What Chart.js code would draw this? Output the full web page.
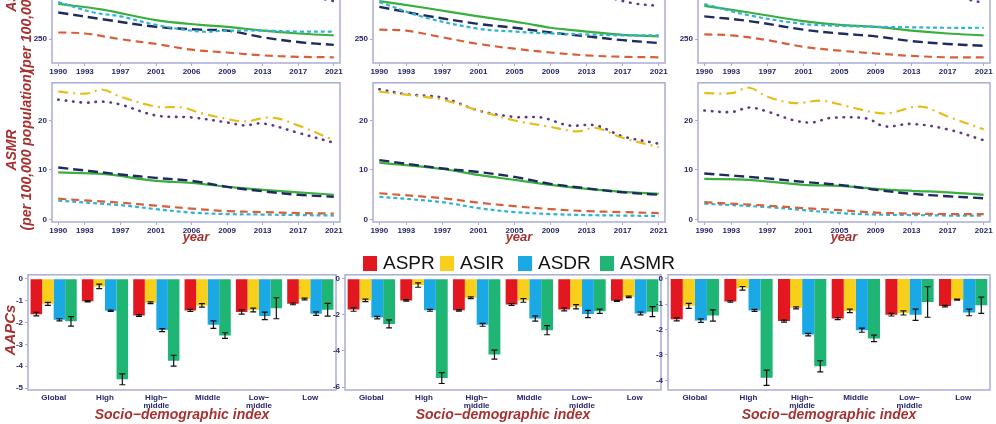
<!DOCTYPE html>
<html>
<head>
<meta charset="utf-8">
<script src="https://cdn.jsdelivr.net/npm/chart.js@4.4.1/dist/chart.umd.min.js"></script>
<style>
body { margin:0; width:996px; height:424px; overflow:hidden; background:#fff; position:relative; font-family:"Liberation Sans", Arial, sans-serif; }
canvas { position:absolute; }
.tt { position:absolute; color:#a83232; font-weight:bold; font-style:italic; white-space:nowrap; text-align:center; }
.rot { transform:translate(-50%,-50%) rotate(-90deg); line-height:15px; font-size:14px; }
.xt { transform:translateX(-50%); }
.lg { position:absolute; top:252px; font-size:19px; color:#111; display:flex; align-items:center; }
.lg i { display:inline-block; width:14px; height:15px; margin-right:6px; }
</style>
</head>
<body>
<canvas id="t0" style="left:20px;top:-80px"></canvas>
<canvas id="t1" style="left:345px;top:-80px"></canvas>
<canvas id="t2" style="left:670px;top:-80px"></canvas>
<canvas id="m0" style="left:20px;top:76px"></canvas>
<canvas id="m1" style="left:345px;top:76px"></canvas>
<canvas id="m2" style="left:670px;top:76px"></canvas>
<canvas id="b0" style="left:0px;top:268px"></canvas>
<canvas id="b1" style="left:320px;top:268px"></canvas>
<canvas id="b2" style="left:643px;top:268px"></canvas>

<div class="tt rot" style="left:19px;top:-8px">ASDR<br>(per 100,000 population)</div>
<div class="tt rot" style="left:19px;top:150px">ASMR<br>(per 100,000 population)</div>
<div class="tt rot" style="left:9px;top:330px;font-size:15px">AAPCs</div>
<div class="tt xt" style="left:196px;top:229px;font-size:13px">year</div>
<div class="tt xt" style="left:519px;top:229px;font-size:13px">year</div>
<div class="tt xt" style="left:844px;top:229px;font-size:13px">year</div>
<div class="tt xt" style="left:182px;top:406px;font-size:14px">Socio−demographic index</div>
<div class="tt xt" style="left:503px;top:406px;font-size:14px">Socio−demographic index</div>
<div class="tt xt" style="left:829px;top:406px;font-size:14px">Socio−demographic index</div>

<div class="lg" style="left:363px"><i style="background:#e3171f"></i>ASPR</div>
<div class="lg" style="left:440px"><i style="background:#f8cf1a"></i>ASIR</div>
<div class="lg" style="left:518px"><i style="background:#1aa9e4"></i>ASDR</div>
<div class="lg" style="left:600px"><i style="background:#1fb574"></i>ASMR</div>

<script>
// ---- line panels: [year, value] pairs ----
let tickYears = [1990, 1993, 1997, 2001, 2005, 2009, 2013, 2017, 2021];
let tickLabelsA = ['1990', '1993', '1997', '2001', '2006', '2009', '2013', '2017', '2021'];
let tickLabelsB = ['1990', '1993', '1997', '2001', '2005', '2009', '2013', '2017', '2021'];

// top row (upper part cut off)
let topLeftGreen = [[1990,324],[1995,312],[2001,290],[2006,280],[2009,276],[2013,268],[2017,262],[2021,258]];
let topLeftNavy = [[1990,306],[1995,292],[2001,276],[2006,270],[2009,268],[2013,254],[2017,244],[2021,238]];
let topLeftCyan = [[1990,328],[1994,306],[1997,298],[2001,280],[2006,266],[2009,268],[2013,268],[2017,266],[2021,266]];
let topLeftOrange = [[1990,264],[1993,262],[1997,250],[2001,240],[2005,228],[2009,222],[2013,216],[2017,213],[2021,212]];
let topLeftPurple = [[1990,420],[2001,390],[2009,370],[2017,345],[2021,330]];
let topLeftYellow = [[1990,560],[2001,530],[2013,500],[2021,470]];

let topMidGreen = [[1990,330],[1995,316],[2001,298],[2006,284],[2009,274],[2013,266],[2017,259],[2021,256]];
let topMidNavy = [[1990,318],[1995,300],[2001,282],[2005,274],[2009,264],[2013,256],[2017,248],[2021,242]];
let topMidCyan = [[1990,328],[1995,296],[2001,272],[2005,266],[2009,262],[2013,260],[2017,258],[2021,258]];
let topMidOrange = [[1990,270],[1993,268],[1997,254],[2001,240],[2005,230],[2009,222],[2013,216],[2017,213],[2021,212]];
let topMidPurple = [[1990,420],[2005,380],[2013,350],[2018,326],[2021,320]];
let topMidYellow = [[1990,560],[2005,520],[2021,470]];

let topRightGreen = [[1990,320],[1995,306],[2001,288],[2005,280],[2009,276],[2013,268],[2017,262],[2021,258]];
let topRightCyan = [[1990,324],[1995,300],[2001,282],[2005,278],[2009,276],[2013,275],[2017,274],[2021,274]];
let topRightNavy = [[1990,298],[1995,288],[2001,270],[2005,262],[2009,256],[2013,246],[2017,240],[2021,236]];
let topRightOrange = [[1990,260],[1993,258],[1997,248],[2001,234],[2005,226],[2009,220],[2013,215],[2017,212],[2021,212]];
let topRightPurple = [[1990,420],[2005,390],[2013,360],[2021,326]];
let topRightYellow = [[1990,560],[2005,520],[2021,480]];

// middle row (ASMR)
let midLeftYellow = [[1990,25.8],[1993,25.4],[1995,26.2],[1997,24.8],[2001,22.8],[2004,22.6],[2006,21.5],[2009,20.3],[2011,19.8],[2014,20.6],[2017,19],[2021,16]];
let midLeftPurple = [[1990,24.2],[1993,23.6],[1995,23.8],[1997,23.2],[2001,21],[2005,20.6],[2009,19.6],[2011,19],[2013,19.4],[2017,17.5],[2021,15.5]];
let midLeftNavy = [[1990,10.5],[1997,9.1],[2001,8.4],[2005,7.8],[2009,6.6],[2013,5.7],[2017,5],[2021,4.6]];
let midLeftGreen = [[1990,9.5],[1995,9.2],[2001,7.8],[2005,7.4],[2009,6.6],[2013,6],[2017,5.5],[2021,5]];
let midLeftOrange = [[1990,4.2],[1997,3.4],[2001,2.8],[2005,2.2],[2009,1.7],[2013,1.5],[2017,1.3],[2021,1.2]];
let midLeftCyan = [[1990,3.8],[1997,2.9],[2001,2.1],[2005,1.4],[2009,1.1],[2013,1.0],[2017,0.9],[2021,0.8]];

let midMidPurple = [[1990,26.3],[1993,25.3],[1997,24.6],[2001,22.0],[2005,20.7],[2008,20.6],[2011,19],[2014,19],[2017,16.8],[2021,15.3]];
let midMidYellow = [[1990,25.8],[1993,25.2],[1997,24.2],[2001,22],[2005,20],[2009,18.7],[2012,17.8],[2014,18.5],[2017,16.5],[2021,14.6]];
let midMidNavy = [[1990,12.0],[1997,10.3],[2001,9.6],[2005,8.6],[2009,7.2],[2013,6.3],[2017,5.5],[2021,5.0]];
let midMidGreen = [[1990,11.5],[1997,10.2],[2001,9.0],[2005,8.0],[2009,7.0],[2013,6.2],[2017,5.6],[2021,5.2]];
let midMidOrange = [[1990,5.3],[1997,4.3],[2001,3.4],[2005,2.7],[2009,2.1],[2013,1.7],[2017,1.5],[2021,1.3]];
let midMidCyan = [[1990,4.6],[1997,3.5],[2001,2.3],[2005,1.5],[2009,1.1],[2013,0.9],[2017,0.8],[2021,0.7]];

let midRightYellow = [[1990,25.5],[1993,25.5],[1995,26.6],[1997,24.8],[2000,23.5],[2003,24.0],[2006,22.8],[2010,21.4],[2014,22.8],[2017,20.8],[2021,18.2]];
let midRightPurple = [[1990,22.0],[1993,21.7],[1995,22.6],[1997,21.8],[2000,20.0],[2002,19.6],[2004,20.5],[2008,20.4],[2010,18.8],[2013,19.3],[2017,18.2],[2021,16.0]];
let midRightNavy = [[1990,9.3],[1997,8.3],[2001,7.6],[2005,7.0],[2009,6.0],[2013,5.2],[2017,4.7],[2021,4.3]];
let midRightGreen = [[1990,8.2],[1995,8.0],[2001,7.0],[2005,6.8],[2009,6.2],[2013,5.8],[2017,5.5],[2021,5.0]];
let midRightOrange = [[1990,3.5],[1997,2.8],[2001,2.3],[2005,1.9],[2009,1.4],[2013,1.2],[2017,1.1],[2021,1.1]];
let midRightCyan = [[1990,3.2],[1997,2.5],[2001,1.9],[2005,1.3],[2009,1.0],[2013,0.9],[2017,0.8],[2021,0.8]];

// ---- bar panels: AAPC value, error half-width ----
let sdi = ['Global', 'High', ['High−', 'middle'], 'Middle', ['Low−', 'middle'], 'Low'];
let measures = ['ASPR', 'ASIR', 'ASDR', 'ASMR'];
let barColors = ['#e3171f', '#f8cf1a', '#1aa9e4', '#1fb574'];

let leftASPR = [-1.62, -1.03, -1.68, -1.45, -1.52, -1.15];
let leftASIR = [-1.15, -0.35, -1.10, -1.22, -1.43, -0.93];
let leftASDR = [-1.88, -1.47, -2.35, -2.10, -1.70, -1.60];
let leftASMR = [-1.95, -4.60, -3.75, -2.60, -1.35, -1.42];
let leftErr = [[0.08, 0.03, 0.04, 0.05, 0.1, 0.04], [0.07, 0.1, 0.04, 0.08, 0.09, 0.04], [0.05, 0.03, 0.07, 0.17, 0.17, 0.08], [0.22, 0.25, 0.25, 0.13, 0.48, 0.29]];

let midASPR = [-1.70, -1.20, -1.75, -1.42, -1.70, -1.22];
let midASIR = [-1.20, -0.35, -1.05, -1.20, -1.55, -1.00];
let midASDR = [-2.15, -1.75, -2.55, -2.20, -1.95, -1.92];
let midASMR = [-2.50, -5.50, -4.20, -2.85, -1.80, -1.82];
let midErr = [[0.1, 0.04, 0.04, 0.05, 0.08, 0.03], [0.07, 0.12, 0.05, 0.1, 0.12, 0.04], [0.07, 0.05, 0.08, 0.15, 0.2, 0.08], [0.22, 0.3, 0.25, 0.25, 0.12, 0.28]];

let rightASPR = [-1.60, -0.90, -1.67, -1.57, -1.42, -1.08];
let rightASIR = [-1.07, -0.38, -1.15, -1.27, -1.35, -0.83];
let rightASDR = [-1.65, -1.25, -2.20, -2.03, -1.42, -1.33];
let rightASMR = [-1.45, -3.90, -3.45, -2.35, -0.92, -1.05];
let rightErr = [[0.06, 0.03, 0.04, 0.04, 0.05, 0.03], [0.1, 0.07, 0.04, 0.07, 0.08, 0.02], [0.07, 0.04, 0.05, 0.08, 0.22, 0.13], [0.22, 0.3, 0.22, 0.13, 0.6, 0.32]];

const tickColor = '#26266a';
const frameColor = '#a9add6';
const tickFont = { family: '"Liberation Sans", Arial', size: 8, weight: 'bold' };

const framePlugin = {
    id: 'frame',
    afterDraw(chart) {
        const a = chart.chartArea, ctx = chart.ctx;
        ctx.save();
        ctx.strokeStyle = frameColor;
        ctx.lineWidth = 1.5;
        ctx.strokeRect(a.left, a.top, a.right - a.left, a.bottom - a.top);
        ctx.restore();
    }
};

function lineStyle(name) {
    const s = {
        green: { borderColor: '#3aae3f', borderDash: [], borderWidth: 2.2 },
        navy: { borderColor: '#1f2b5e', borderDash: [10, 5], borderWidth: 2.4 },
        cyan: { borderColor: '#2fb3d6', borderDash: [4, 3], borderWidth: 2.2 },
        orange: { borderColor: '#d6603a', borderDash: [8, 5], borderWidth: 2.2 },
        yellow: { borderColor: '#e5be1c', borderDash: [10, 5, 2, 5], borderWidth: 2.2 },
        purple: { borderColor: '#5e3a86', borderDash: [0.5, 7], borderWidth: 2.6, borderCapStyle: 'round' }
    };
    return s[name];
}

function linePanel(id, series, labels, yMin, yMax, yTicks, yAxisW) {
    const cv = document.getElementById(id);
    const isTop = id[0] === 't';
    cv.width = 325; cv.height = isTop ? 157 : 160;
    const datasets = series.map(([name, pts]) => Object.assign({
        data: pts.map(p => ({ x: p[0], y: p[1] })),
        pointRadius: 0, tension: 0.35, fill: false
    }, lineStyle(name)));
    new Chart(cv, {
        type: 'line',
        data: { datasets: datasets },
        options: {
            responsive: false, animation: false,
            layout: { padding: { top: isTop ? 0 : 4, right: 5, left: 0, bottom: 0 } },
            plugins: { legend: { display: false }, tooltip: { enabled: false } },
            scales: {
                x: {
                    type: 'linear', min: 1989.3, max: 2021.7,
                    afterBuildTicks: ax => { ax.ticks = tickYears.map(v => ({ value: v })); },
                    afterFit: ax => { ax.height = 14; },
                    ticks: { color: tickColor, font: tickFont, padding: 1, maxRotation: 0,
                        callback: (v, i) => labels[i] },
                    grid: { drawOnChartArea: false, tickLength: 3, color: frameColor },
                    border: { display: false }
                },
                y: {
                    min: yMin, max: yMax,
                    afterBuildTicks: ax => { ax.ticks = yTicks.map(v => ({ value: v })); },
                    afterFit: ax => { ax.width = yAxisW; },
                    ticks: { color: tickColor, font: tickFont, padding: 2 },
                    grid: { drawOnChartArea: false, tickLength: 3, color: frameColor },
                    border: { display: false }
                }
            }
        },
        plugins: [framePlugin]
    });
}

linePanel('t0', [['yellow', topLeftYellow], ['purple', topLeftPurple], ['cyan', topLeftCyan], ['navy', topLeftNavy], ['green', topLeftGreen], ['orange', topLeftOrange]], tickLabelsA, 200, 486, [250], 32);
linePanel('t1', [['yellow', topMidYellow], ['purple', topMidPurple], ['cyan', topMidCyan], ['navy', topMidNavy], ['green', topMidGreen], ['orange', topMidOrange]], tickLabelsB, 200, 486, [250], 28);
linePanel('t2', [['yellow', topRightYellow], ['purple', topRightPurple], ['cyan', topRightCyan], ['navy', topRightNavy], ['green', topRightGreen], ['orange', topRightOrange]], tickLabelsB, 200, 486, [250], 28);
linePanel('m0', [['yellow', midLeftYellow], ['purple', midLeftPurple], ['navy', midLeftNavy], ['green', midLeftGreen], ['orange', midLeftOrange], ['cyan', midLeftCyan]], tickLabelsA, -0.5, 27.6, [0, 10, 20], 32);
linePanel('m1', [['yellow', midMidYellow], ['purple', midMidPurple], ['navy', midMidNavy], ['green', midMidGreen], ['orange', midMidOrange], ['cyan', midMidCyan]], tickLabelsB, -0.5, 27.6, [0, 10, 20], 28);
linePanel('m2', [['yellow', midRightYellow], ['purple', midRightPurple], ['navy', midRightNavy], ['green', midRightGreen], ['orange', midRightOrange], ['cyan', midRightCyan]], tickLabelsB, -0.5, 27.6, [0, 10, 20], 28);

const errorBarPlugin = {
    id: 'errbars',
    afterDatasetsDraw(chart) {
        const ctx = chart.ctx, ys = chart.scales.y;
        ctx.save();
        ctx.strokeStyle = '#111';
        ctx.lineWidth = 1.2;
        chart.data.datasets.forEach((ds, di) => {
            chart.getDatasetMeta(di).data.forEach((bar, i) => {
                const v = ds.data[i], e = ds.err[i];
                const y1 = ys.getPixelForValue(v - e), y2 = ys.getPixelForValue(v + e);
                ctx.beginPath();
                ctx.moveTo(bar.x, y1); ctx.lineTo(bar.x, y2);
                ctx.moveTo(bar.x - 3, y1); ctx.lineTo(bar.x + 3, y1);
                ctx.moveTo(bar.x - 3, y2); ctx.lineTo(bar.x + 3, y2);
                ctx.stroke();
            });
        });
        ctx.restore();
    }
};

function barPanel(id, width, yAxisW, vals, errs, yMin, yMax, step) {
    const cv = document.getElementById(id);
    cv.width = width; cv.height = 150;
    new Chart(cv, {
        type: 'bar',
        data: {
            labels: sdi,
            datasets: measures.map((m, k) => ({
                label: m, data: vals[k], err: errs[k],
                backgroundColor: barColors[k], borderWidth: 0,
                categoryPercentage: 0.9, barPercentage: 1
            }))
        },
        options: {
            responsive: false, animation: false,
            layout: { padding: { top: 4, right: 5, left: 0, bottom: 0 } },
            plugins: { legend: { display: false }, tooltip: { enabled: false } },
            scales: {
                x: {
                    afterFit: ax => { ax.height = 28; },
                    ticks: { color: tickColor, font: Object.assign({ lineHeight: 1.0 }, tickFont), padding: 4, maxRotation: 0, autoSkip: false },
                    grid: { display: false, drawTicks: false, tickLength: 0 },
                    border: { display: false }
                },
                y: {
                    min: yMin, max: yMax,
                    afterBuildTicks: ax => {
                        let t = [];
                        for (let v = 0; v >= yMin; v -= step) t.push({ value: v });
                        ax.ticks = t;
                    },
                    afterFit: ax => { ax.width = yAxisW; },
                    ticks: { color: tickColor, font: tickFont, padding: 2 },
                    grid: { drawOnChartArea: false, tickLength: 3, color: frameColor },
                    border: { display: false }
                }
            }
        },
        plugins: [framePlugin, errorBarPlugin]
    });
}

barPanel('b0', 341, 28, [leftASPR, leftASIR, leftASDR, leftASMR], leftErr, -5.09, 0.18, 1);
barPanel('b1', 346, 25, [midASPR, midASIR, midASDR, midASMR], midErr, -6.16, 0.22, 2);
barPanel('b2', 352, 25, [rightASPR, rightASIR, rightASDR, rightASMR], rightErr, -4.38, 0.15, 1);
</script>
</body>
</html>
